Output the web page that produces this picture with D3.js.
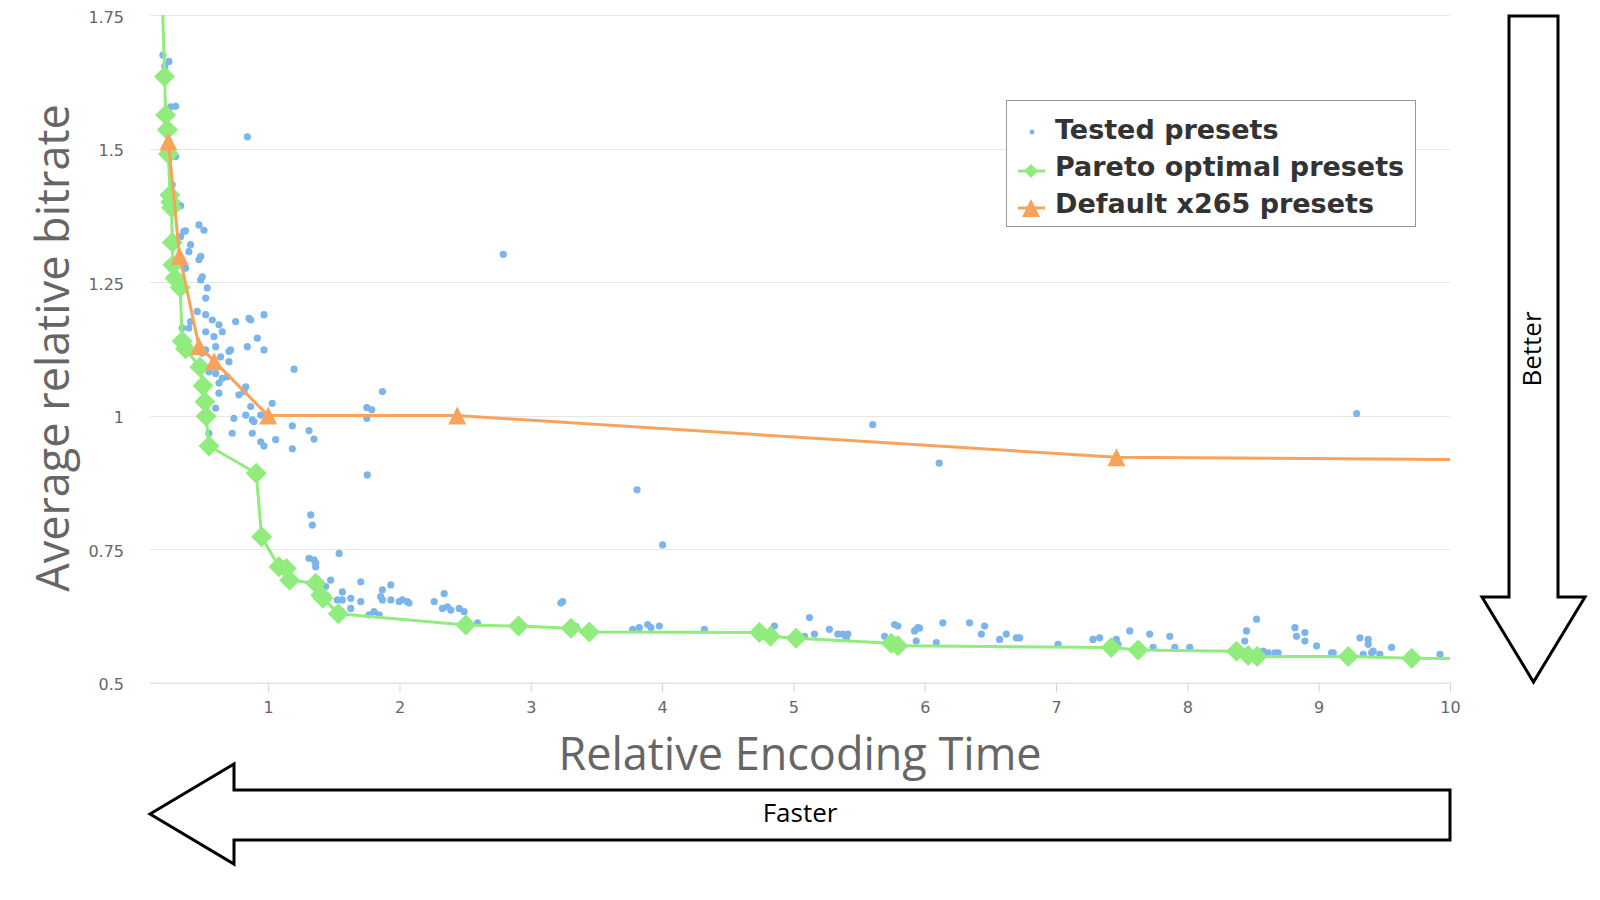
<!DOCTYPE html>
<html>
<head>
<meta charset="utf-8">
<script src="https://cdn.jsdelivr.net/npm/d3@7"></script>
<style>
  html, body { margin: 0; padding: 0; background: #fff; }
  svg { display: block; }
</style>
</head>
<body>
<svg id="chart" width="1600" height="900"></svg>
<script>
// ---------------- DATA ----------------
const seriesNames = ["Tested presets", "Pareto optimal presets", "Default x265 presets"];
const xTicks = [1, 2, 3, 4, 5, 6, 7, 8, 9, 10];
const yTicks = [0.5, 0.75, 1, 1.25, 1.5, 1.75];
const xTitle = "Relative Encoding Time";
const yTitle = "Average relative bitrate";
const betterLabel = "Better";
const fasterLabel = "Faster";

// Tested presets: [relative encoding time, average relative bitrate]
const testedPresets = [
  [0.198,1.675],[0.244,1.663],[0.213,1.654],[0.295,1.579],[0.257,1.578],[0.841,1.522],[0.295,1.485],
  [0.269,1.432],[0.333,1.393],[0.473,1.357],[0.511,1.347],[0.358,1.345],[0.371,1.346],[0.409,1.320],
  [0.333,1.335],[0.396,1.307],[0.486,1.298],[0.473,1.292],[0.371,1.276],[0.498,1.260],[0.486,1.254],
  [0.536,1.239],[0.524,1.220],[0.460,1.195],[0.524,1.189],[0.574,1.179],[0.625,1.170],[0.650,1.157],
  [0.752,1.176],[0.854,1.182],[0.867,1.179],[0.968,1.189],[0.409,1.176],[0.396,1.164],[0.345,1.164],
  [0.524,1.157],[0.587,1.148],[0.917,1.145],[0.841,1.129],[0.968,1.123],[0.600,1.129],[0.701,1.120],
  [0.714,1.123],[0.638,1.110],[0.701,1.101],[0.524,1.123],[0.498,1.117],[1.197,1.087],[0.549,1.082],
  [0.600,1.079],[0.650,1.070],[0.625,1.061],[0.688,1.073],[0.829,1.054],[0.816,1.045],[0.777,1.039],
  [0.625,1.042],[0.867,1.017],[1.031,1.023],[0.600,1.014],[0.829,1.001],[0.739,0.995],[0.879,0.992],
  [0.892,0.989],[0.943,1.001],[1.184,0.981],[1.311,0.972],[1.349,0.956],[0.726,0.967],[0.879,0.967],
  [0.943,0.951],[0.968,0.943],[1.057,0.955],[1.184,0.938],[0.549,0.967],
  [1.870,1.045],[1.751,1.015],[1.789,1.011],[1.751,0.995],[2.79,1.302],[1.755,0.889],[3.809,0.861],
  [4.004,0.758],[5.604,0.983],[6.11,0.911],[9.289,1.004],
  [1.324,0.814],[1.336,0.795],[1.540,0.742],[1.311,0.733],[1.349,0.730],[1.362,0.724],[1.362,0.717],
  [1.476,0.692],[1.438,0.680],[1.565,0.670],[1.527,0.655],[1.565,0.655],[1.629,0.658],[1.629,0.639],
  [1.705,0.689],[1.705,0.652],[1.768,0.627],[1.806,0.633],[1.845,0.627],[1.870,0.674],[1.934,0.683],
  [1.857,0.661],[1.870,0.655],[1.934,0.655],[1.997,0.652],[2.022,0.655],[2.060,0.652],[2.073,0.649],
  [2.264,0.652],[2.340,0.667],[2.327,0.639],[2.365,0.642],[2.391,0.636],[2.454,0.639],[2.492,0.633],
  [2.594,0.612],[3.229,0.649],[3.242,0.652],[3.344,0.605],
  [3.775,0.600],[3.826,0.603],[3.890,0.609],[3.915,0.603],[3.979,0.606],[4.322,0.600],[4.855,0.606],
  [5.122,0.622],[5.084,0.587],[5.160,0.591],[5.274,0.600],[5.338,0.591],[5.376,0.591],[5.414,0.591],
  [5.402,0.583],[5.694,0.587],[5.770,0.609],[5.795,0.606],[5.922,0.597],[5.947,0.603],[5.960,0.602],
  [5.935,0.578],[6.088,0.575],[6.138,0.612],[6.341,0.612],[6.456,0.606],[6.431,0.591],[6.570,0.581],
  [6.621,0.591],[6.697,0.584],[6.723,0.584],[7.015,0.572],
  [7.281,0.581],[7.332,0.584],[7.459,0.581],[7.472,0.572],[7.561,0.597],[7.713,0.591],[7.739,0.566],
  [7.866,0.587],[7.904,0.566],[8.018,0.566],[8.437,0.578],[8.450,0.597],[8.527,0.619],[8.577,0.559],
  [8.615,0.556],[8.666,0.556],[8.691,0.556],[8.819,0.603],[8.831,0.587],[8.895,0.594],[8.895,0.578],
  [8.984,0.569],[9.098,0.556],[9.111,0.556],[9.314,0.584],[9.377,0.581],[9.377,0.572],[9.339,0.553],
  [9.403,0.556],[9.415,0.559],[9.466,0.553],[9.555,0.566],[9.924,0.553]
];

// Pareto optimal presets (first and last points lie outside the visible range)
const paretoPresets = [
  [0.18,1.90],[0.211,1.635],[0.219,1.563],[0.232,1.535],[0.240,1.490],[0.252,1.413],[0.258,1.400],
  [0.264,1.389],[0.270,1.324],[0.274,1.282],[0.290,1.257],[0.330,1.240],[0.345,1.139],[0.370,1.125],
  [0.480,1.091],[0.503,1.056],[0.518,1.026],[0.527,0.999],[0.550,0.943],[0.909,0.892],[0.950,0.773],
  [1.082,0.717],[1.138,0.714],[1.164,0.692],[1.362,0.686],[1.400,0.664],[1.418,0.658],[1.534,0.629],
  [2.505,0.608],[2.906,0.606],[3.306,0.602],[3.445,0.595],[4.741,0.594],[4.825,0.587],[5.020,0.583],
  [5.745,0.574],[5.795,0.569],[7.421,0.566],[7.625,0.561],[8.374,0.559],[8.463,0.551],[8.531,0.549],
  [9.225,0.549],[9.708,0.546],[11.0,0.543]
];

// Default x265 presets (last point lies outside the visible range)
const defaultPresets = [
  [0.240,1.513],[0.325,1.299],[0.473,1.130],[0.589,1.102],[1.0,1.0],[2.44,1.0],[7.46,0.922],[15.0,0.910]
];

// ---------------- STYLE ----------------
const colors = { tested: "#7cb5ec", pareto: "#90ed7d", def: "#f7a35c" };
const plot = { left: 150, right: 1450, top: 15, bottom: 682.7 };

const svg = d3.select("#chart");
const x = d3.scaleLinear().domain([0.1, 10]).range([plot.left, plot.right]);
const y = d3.scaleLinear().domain([0.5, 1.75]).range([plot.bottom, plot.top]);

svg.append("defs").append("clipPath").attr("id", "plotclip")
  .append("rect").attr("x", plot.left).attr("y", plot.top)
  .attr("width", plot.right - plot.left).attr("height", plot.bottom - plot.top);

// gridlines
svg.append("g").selectAll("line").data(yTicks.filter(d => d > 0.5)).join("line")
  .attr("x1", plot.left).attr("x2", plot.right)
  .attr("y1", d => Math.round(y(d)) + 0.5).attr("y2", d => Math.round(y(d)) + 0.5)
  .attr("stroke", "#e6e6e6").attr("stroke-width", 1);

// y axis labels
const yAxis = svg.append("g").attr("transform", `translate(${plot.left},2)`)
  .call(d3.axisLeft(y).tickValues(yTicks).tickSize(0).tickPadding(26).tickFormat(d => String(d)));
yAxis.select(".domain").remove();
yAxis.selectAll("text").attr("font-family", "DejaVu Sans").attr("font-size", 16).attr("fill", "#666");

// x axis
const xAxis = svg.append("g").attr("transform", `translate(0,${plot.bottom})`)
  .call(d3.axisBottom(x).tickValues(xTicks).tickSize(10).tickSizeOuter(0).tickPadding(9).tickFormat(d => String(d)));
xAxis.select(".domain").attr("stroke", "#ccd6eb").attr("d", `M${plot.left},0.5H${plot.right}`);
xAxis.selectAll(".tick line").attr("stroke", "#ccd6eb");
xAxis.selectAll("text").attr("font-family", "DejaVu Sans").attr("font-size", 16).attr("fill", "#666");

// axis titles
svg.append("text").attr("x", 800).attr("y", 770).attr("text-anchor", "middle")
  .attr("font-family", "Open Sans").attr("font-size", 45).attr("fill", "#666").text(xTitle);
svg.append("text").attr("transform", "translate(69,348) rotate(-90)").attr("text-anchor", "middle")
  .attr("font-family", "Open Sans").attr("font-size", 45).attr("fill", "#666").text(yTitle);

// symbols
const diamondPath = r => `M0,${-r}L${r},0L0,${r}L${-r},0Z`;
const trianglePath = r => `M0,${-r}L${r},${r}L${-r},${r}Z`;

// Tested presets
svg.append("g").selectAll("circle").data(testedPresets).join("circle")
  .attr("cx", d => x(d[0])).attr("cy", d => y(d[1])).attr("r", 3.6)
  .attr("fill", colors.tested);

const line = d3.line().x(d => x(d[0])).y(d => y(d[1]));

// Pareto
svg.append("path").datum(paretoPresets).attr("clip-path", "url(#plotclip)")
  .attr("d", line).attr("fill", "none").attr("stroke", colors.pareto).attr("stroke-width", 3)
  .attr("stroke-linejoin", "round");
svg.append("g").selectAll("path")
  .data(paretoPresets.filter(d => d[0] >= 0.1 && d[0] <= 10 && d[1] <= 1.75)).join("path")
  .attr("transform", d => `translate(${x(d[0])},${y(d[1])})`)
  .attr("d", diamondPath(10.5)).attr("fill", colors.pareto);

// Default
svg.append("path").datum(defaultPresets).attr("clip-path", "url(#plotclip)")
  .attr("d", line).attr("fill", "none").attr("stroke", colors.def).attr("stroke-width", 3)
  .attr("stroke-linejoin", "round");
svg.append("g").selectAll("path")
  .data(defaultPresets.filter(d => d[0] <= 10)).join("path")
  .attr("transform", d => `translate(${x(d[0])},${y(d[1])})`)
  .attr("d", trianglePath(9)).attr("fill", colors.def);

// Legend
const lg = svg.append("g");
lg.append("rect").attr("x", 1006.5).attr("y", 100.5).attr("width", 409).attr("height", 126)
  .attr("fill", "#fff").attr("stroke", "#999").attr("stroke-width", 1);
const rows = [139, 176, 213];
seriesNames.forEach((name, i) => {
  lg.append("text").attr("x", 1055).attr("y", rows[i])
    .attr("font-family", "DejaVu Sans").attr("font-weight", "bold").attr("font-size", 27)
    .attr("fill", "#333").text(name);
});
lg.append("circle").attr("cx", 1032).attr("cy", 132).attr("r", 2.4).attr("fill", colors.tested);
lg.append("line").attr("x1", 1018).attr("x2", 1045).attr("y1", 171).attr("y2", 171)
  .attr("stroke", colors.pareto).attr("stroke-width", 3);
lg.append("path").attr("transform", "translate(1031,171)").attr("d", diamondPath(7)).attr("fill", colors.pareto);
lg.append("line").attr("x1", 1018).attr("x2", 1045).attr("y1", 208).attr("y2", 208)
  .attr("stroke", colors.def).attr("stroke-width", 3);
lg.append("path").attr("transform", "translate(1031,208)").attr("d", trianglePath(9)).attr("fill", colors.def);

// Arrows
svg.append("path")
  .attr("d", "M1509,16 L1558,16 L1558,597 L1585,597 L1533.5,682 L1482,597 L1509,597 Z")
  .attr("fill", "#fff").attr("stroke", "#000").attr("stroke-width", 3).attr("stroke-linejoin", "miter");
svg.append("text").attr("transform", "translate(1541,349) rotate(-90)").attr("text-anchor", "middle")
  .attr("font-family", "Open Sans").attr("font-size", 26).attr("fill", "#000").text(betterLabel);

svg.append("path")
  .attr("d", "M150,814 L234,764 L234,790 L1450,790 L1450,840 L234,840 L234,864 Z")
  .attr("fill", "#fff").attr("stroke", "#000").attr("stroke-width", 3).attr("stroke-linejoin", "miter");
svg.append("text").attr("x", 800).attr("y", 822).attr("text-anchor", "middle")
  .attr("font-family", "Open Sans").attr("font-size", 26).attr("fill", "#000").text(fasterLabel);
</script>
</body>
</html>
